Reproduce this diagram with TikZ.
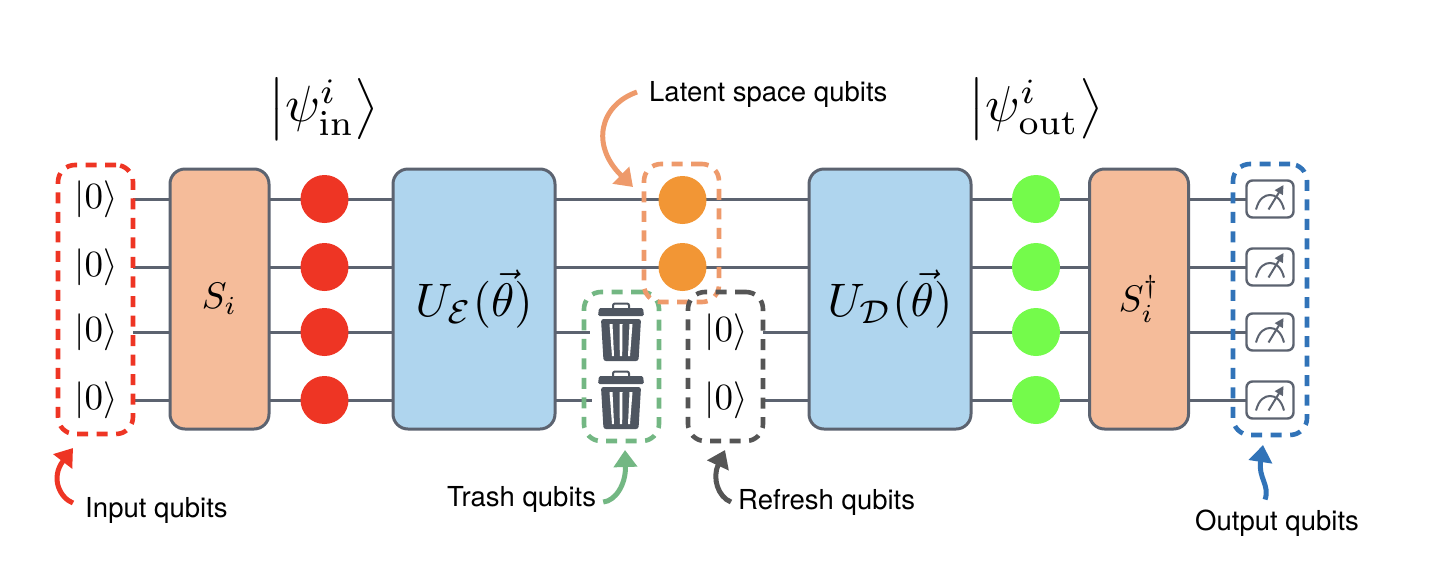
\documentclass[tikz,border=0pt]{standalone}
\usepackage[no-math]{fontspec}
\usepackage{amsmath}
\newfontfamily\labfont{TeX Gyre Heros}
\usetikzlibrary{arrows.meta,calc}
\definecolor{wirec}{HTML}{5C6370}
\definecolor{salmon}{HTML}{F5BC9A}
\definecolor{skyb}{HTML}{AFD5EE}
\definecolor{redc}{HTML}{EE3524}
\definecolor{orangec}{HTML}{F29635}
\definecolor{greenc}{HTML}{74FB4B}
\definecolor{latentc}{HTML}{EE9A6B}
\definecolor{trashg}{HTML}{73B783}
\definecolor{grayd}{HTML}{555555}
\definecolor{blued}{HTML}{3173B8}
\definecolor{trashc}{HTML}{4F5661}
\newcommand{\zket}{\scalebox{3.7}{$|0\rangle$}}
\tikzset{
  wire/.style={draw=wirec,line width=3pt},
  gate/.style={draw=wirec,line width=3pt,rounded corners=15pt,minimum height=260pt,inner sep=0pt,anchor=center},
  smallgate/.style={gate,fill=salmon,minimum width=99pt},
  biggate/.style={gate,fill=skyb,minimum width=162pt},
  dot/.style={circle,minimum size=48pt,inner sep=0pt},
  group/.style={draw=#1,line width=4.6pt,dash pattern=on 11pt off 8.5pt,rounded corners=17pt,inner sep=0pt,fill=none},
  meter/.style={draw=wirec,fill=white,line width=2.4pt,rounded corners=6pt,minimum width=47pt,minimum height=37pt,inner sep=0pt},
  ketn/.style={inner sep=0pt,text=black},
  lab/.style={font=\labfont\fontsize{27.5}{32}\selectfont,inner sep=0pt,anchor=west,text=black},
  callout/.style={line width=5pt,draw=#1,-{Triangle[length=17pt,width=23pt,fill=#1]}},
  bin/.style={inner sep=0pt,minimum width=46pt,minimum height=60pt}
}
\begin{document}
\begin{tikzpicture}[x=1pt,y=-1pt]
\useasboundingbox (0,0) rectangle (1445,587);
% row markers
\node[ketn] (q1) at (96,199) {\zket};
\node[ketn] (q2) at (96,267) {\zket};
\node[ketn] (q3) at (96,332) {\zket};
\node[ketn] (q4) at (96,400) {\zket};
\node[minimum width=75pt,minimum height=269pt,inner sep=0pt] (inbox) at (95.5,299.5) {};
\node[bin] (t1) at (621,332) {};
\node[bin] (t2) at (621,400) {};
\node[ketn] (r3) at (726,332) {\zket};
\node[ketn] (r4) at (726,400) {\zket};
\node[minimum width=75pt,minimum height=149pt,inner sep=0pt] (rbox) at (725.5,366.5) {};
\foreach \i/\yy in {1/199,2/267,3/332,4/400}
  \node[minimum width=47pt,minimum height=37pt,inner sep=0pt] (m\i) at (1270,\yy) {};
% wires
\coordinate (w3end) at ($(t1.west)+(-8,0)$);
\coordinate (w4end) at ($(t2.west)+(-6,0)$);
\path[wire] (inbox.east |- q1) -- (m1.west);
\path[wire] (inbox.east |- q2) -- (m2.west);
\path[wire] (inbox.east |- q3) -- (w3end);
\path[wire] (inbox.east |- q4) -- (w4end);
\path[wire] (rbox.east |- r3) -- (m3.west);
\path[wire] (rbox.east |- r4) -- (m4.west);
\foreach \i/\yy in {1/199,2/267,3/332,4/400}
  \node[meter] at (1270,\yy) {};
% gates
\node[smallgate] (si) at (219.5,299) {\scalebox{3.7}{$S_i$}};
\node[biggate] (ue) at (474,299) {\scalebox{4.7}{$U_{\mathcal{E}}(\vec{\theta})$}};
\node[biggate] (ud) at (890,299) {\scalebox{4.7}{$U_{\mathcal{D}}(\vec{\theta})$}};
\node[smallgate] (sd) at (1139,299) {\scalebox{3.7}{$S_i^\dagger$}};
% dots
\foreach \i/\yy in {1/199,2/267,3/332,4/400}{
  \node[dot,fill=redc] (a\i) at (324.5,\yy) {};
  \node[dot,fill=greenc] (g\i) at (1036,\yy) {};
}
\node[dot,fill=orangec] (o1) at (682.5,200) {};
\node[dot,fill=orangec] (o2) at (682.5,267) {};
% meter glyphs
\foreach \yy in {199,267,332,400}{
  \begin{scope}[shift={(1270,\yy)}]
    \draw[wirec,line width=2pt] (-14,10.5) .. controls (-11,-1) and (-5,-4) .. (0,-4) .. controls (5,-4) and (11,-1) .. (14,10.5);
    \draw[wirec,line width=2pt,-{Triangle[length=9pt,width=9pt]}] (-1.5,10.5) -- (13.5,-14);
  \end{scope}
}
% trash cans
\foreach \n in {t1,t2}{
  \begin{scope}[shift={(\n.center)}]
    \draw[trashc,line width=2pt,rounded corners=2pt] (-8,-24) -- (-8,-28.5) -- (8,-28.5) -- (8,-24);
    \fill[trashc,rounded corners=1.5pt] (-23,-16) -- (-22,-24) -- (22,-24) -- (23,-16) -- cycle;
    \fill[trashc,rounded corners=2.5pt] (-20,-13) -- (20,-13) -- (17.5,29) -- (-17.5,29) -- cycle;
    \fill[white] (-11.5,-8) -- (-8.5,-8) -- (-7,24) -- (-9,24) -- cycle;
    \fill[white] (-1.5,-8) -- (1.5,-8) -- (1.2,24) -- (-1.2,24) -- cycle;
    \fill[white] (8.5,-8) -- (11.5,-8) -- (9,24) -- (7,24) -- cycle;
  \end{scope}
}
% dashed groups
\node[group=redc,minimum width=75pt,minimum height=269pt] at (95.5,299.5) {};
\node[group=trashg,minimum width=75pt,minimum height=149pt] (tbox) at (621.5,366.5) {};
\node[group=latentc,minimum width=75pt,minimum height=138pt] (lbox) at (681.5,233) {};
\node[group=grayd,minimum width=75pt,minimum height=149pt] at (725.5,366.5) {};
\node[group=blued,minimum width=74pt,minimum height=271pt] (obox) at (1270,299.5) {};
% state labels
\node[inner sep=0pt] (psiin) at (323.5,109) {\scalebox{5.1}{$\left|\psi^i_{\mathrm{in}}\right\rangle$}};
\node[inner sep=0pt] (psiout) at (1036,109) {\scalebox{5.05}{$\left|\psi^i_{\mathrm{out}}\right\rangle$}};
% labels
\node[lab] (linput) at (85,510) {Input qubits};
\node[lab] (ltrash) at (447,499) {Trash qubits};
\node[lab] (lrefresh) at (738,502) {Refresh qubits};
\node[lab] (loutput) at (1195,523) {Output qubits};
\node[lab] (llatent) at (649,94) {Latent space qubits};
% call-outs
\coordinate (tipin) at (73,448);
\coordinate (tiptr) at (625,450);
\coordinate (tiprf) at (725,450);
\coordinate (tipou) at (1263,445);
\coordinate (tipla) at (633,187);
\draw[callout=redc] ($(linput.west)+(-12,-7)$) .. controls (60,498) and (50,478) .. (tipin);
\draw[callout=trashg] ($(ltrash.east)+(7,3)$) .. controls (615,501) and (626,485) .. (tiptr);
\draw[callout=grayd] ($(lrefresh.west)+(-7,0)$) .. controls (718,497) and (712,478) .. (tiprf);
\draw[callout=blued] ($(loutput.north)+(-12,-10)$) .. controls (1270,485) and (1258,478) .. (tipou);
\draw[callout=latentc] ($(llatent.west)+(-12,-2)$) .. controls (600,105) and (590,145) .. (tipla);
\end{tikzpicture}
\end{document}
